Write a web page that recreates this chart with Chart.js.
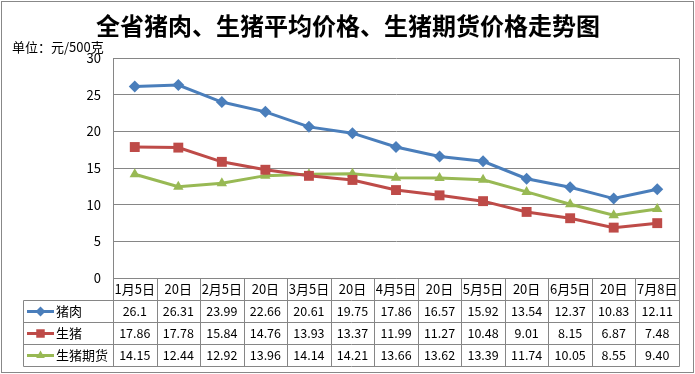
<!DOCTYPE html>
<html>
<head>
<meta charset="utf-8">
<script src="https://cdn.jsdelivr.net/npm/chart.js@4/dist/chart.umd.min.js"></script>
<style>
  html, body { margin: 0; padding: 0; background: #fff; }
  #wrap { width: 695px; height: 374px; }
</style>
</head>
<body>
<div id="wrap"><canvas id="priceChart" width="695" height="374"></canvas></div>
<script>
(function () {
  'use strict';

  // ── Data ─────────────────────────────────────────────────────
  var TITLE   = '全省猪肉、生猪平均价格、生猪期货价格走势图';
  var UNIT    = '单位：元/500克';
  var DATES   = ['1月5日','20日','2月5日','20日','3月5日','20日','4月5日','20日','5月5日','20日','6月5日','20日','7月8日'];
  var PORK    = [26.1, 26.31, 23.99, 22.66, 20.61, 19.75, 17.86, 16.57, 15.92, 13.54, 12.37, 10.83, 12.11];
  var HOG     = [17.86, 17.78, 15.84, 14.76, 13.93, 13.37, 11.99, 11.27, 10.48, 9.01, 8.15, 6.87, 7.48];
  var FUTURES = [14.15, 12.44, 12.92, 13.96, 14.14, 14.21, 13.66, 13.62, 13.39, 11.74, 10.05, 8.55, 9.40];
  var Y_TICKS = [0, 5, 10, 15, 20, 25, 30];

  var FONT  = "'Noto Sans CJK SC', 'Noto Sans', sans-serif";
  var GRID  = '#868686';
  var ROW_H = 22;

  function fmtPlain(v) { return String(v); }
  function fmtFixed(v) { return v.toFixed(2); }

  var SERIES = [
    { label: '猪肉',     data: PORK,    color: '#4A7EBB', style: 'rectRot',  radius: 6, fmt: fmtPlain },
    { label: '生猪',     data: HOG,     color: '#BE4B48', style: 'rect',     radius: 7, fmt: fmtPlain },
    { label: '生猪期货', data: FUTURES, color: '#98B954', style: 'triangle', radius: 6, fmt: fmtFixed }
  ];

  // ── Frame, title, data table ─────────────────────────────────
  var tablePlugin = {
    id: 'dataTable',
    beforeDraw: function (chart) {
      var ctx = chart.ctx;
      ctx.save();
      ctx.fillStyle = '#fff';
      ctx.fillRect(0, 0, chart.width, chart.height);
      ctx.strokeStyle = '#888';
      ctx.lineWidth = 1;
      ctx.strokeRect(1.5, 1.5, chart.width - 3, chart.height - 3);
      ctx.restore();
    },
    afterDraw: function (chart) {
      var ctx = chart.ctx;
      var area = chart.chartArea;
      var xs = chart.scales.x;
      var n = DATES.length;
      var cw = (area.right - area.left) / n;
      var top = Math.round(area.bottom) + 0.5;
      var left = 23.5, right = Math.round(area.right) + 0.5;

      ctx.save();
      // title + unit
      ctx.fillStyle = '#000';
      ctx.textAlign = 'center';
      ctx.textBaseline = 'middle';
      ctx.font = 'bold 24px ' + FONT;
      ctx.fillText(TITLE, 348, 26);
      ctx.textAlign = 'left';
      ctx.font = '13px ' + FONT;
      ctx.fillText(UNIT, 12, 47);

      // right edge of plot
      ctx.strokeStyle = GRID;
      ctx.lineWidth = 1;
      ctx.beginPath();
      ctx.moveTo(right, Math.round(area.top) + 0.5);
      ctx.lineTo(right, top);
      ctx.stroke();

      // grid lines of the table
      var bottom = top + ROW_H * (SERIES.length + 1);
      ctx.beginPath();
      ctx.moveTo(Math.round(area.left) + 0.5, top);
      ctx.lineTo(right, top);
      for (var r = 1; r <= SERIES.length + 1; r++) {
        ctx.moveTo(left, top + r * ROW_H);
        ctx.lineTo(right, top + r * ROW_H);
      }
      ctx.moveTo(left, top + ROW_H);
      ctx.lineTo(left, bottom);
      for (var i = 0; i <= n; i++) {
        var bx = Math.round(area.left + i * cw) + 0.5;
        ctx.moveTo(bx, top);
        ctx.lineTo(bx, bottom);
      }
      ctx.stroke();

      // header row
      ctx.fillStyle = '#000';
      ctx.textAlign = 'center';
      ctx.font = '13px ' + FONT;
      DATES.forEach(function (d, i) {
        ctx.fillText(d, xs.getPixelForValue(i), top + ROW_H / 2);
      });

      // series rows
      ctx.font = '12.5px ' + FONT;
      SERIES.forEach(function (s, k) {
        var cy = top + (k + 1.5) * ROW_H;
        ctx.strokeStyle = s.color;
        ctx.fillStyle = s.color;
        ctx.lineWidth = 3;
        ctx.beginPath();
        ctx.moveTo(27, cy);
        ctx.lineTo(54, cy);
        ctx.stroke();
        Chart.helpers.drawPoint(ctx, { pointStyle: s.style, radius: s.radius - 1, rotation: 0, borderWidth: 0 }, 40.5, cy);

        ctx.fillStyle = '#000';
        ctx.textAlign = 'left';
        ctx.font = '13px ' + FONT;
        ctx.fillText(s.label, 56, cy);
        ctx.textAlign = 'center';
        ctx.font = '12.5px ' + FONT;
        s.data.forEach(function (v, i) {
          ctx.fillText(s.fmt(v), xs.getPixelForValue(i), cy);
        });
      });
      ctx.restore();
    }
  };

  // ── Chart ────────────────────────────────────────────────────
  var ctx = document.getElementById('priceChart').getContext('2d');
  new Chart(ctx, {
    type: 'line',
    data: {
      labels: DATES,
      datasets: SERIES.map(function (s) {
        return {
          label: s.label,
          data: s.data,
          borderColor: s.color,
          backgroundColor: s.color,
          borderWidth: 3,
          pointStyle: s.style,
          pointRadius: s.radius,
          pointBorderWidth: 0,
          pointBackgroundColor: s.color,
          tension: 0,
          fill: false
        };
      })
    },
    options: {
      responsive: false,
      animation: false,
      devicePixelRatio: 1,
      layout: { padding: { left: 0, top: 58, right: 16, bottom: 96 } },
      plugins: { legend: { display: false }, title: { display: false }, tooltip: { enabled: false } },
      scales: {
        x: { display: false, offset: true },
        y: {
          min: Y_TICKS[0],
          max: Y_TICKS[Y_TICKS.length - 1],
          afterFit: function (scale) { scale.width = 113; },
          afterBuildTicks: function (scale) {
            scale.ticks = Y_TICKS.map(function (v) { return { value: v }; });
          },
          grid: { color: GRID, lineWidth: 1, drawTicks: false },
          border: { color: GRID, width: 1 },
          ticks: { color: '#000', padding: 12, font: { size: 13, family: FONT } }
        }
      }
    },
    plugins: [tablePlugin]
  });
})();
</script>
</body>
</html>
